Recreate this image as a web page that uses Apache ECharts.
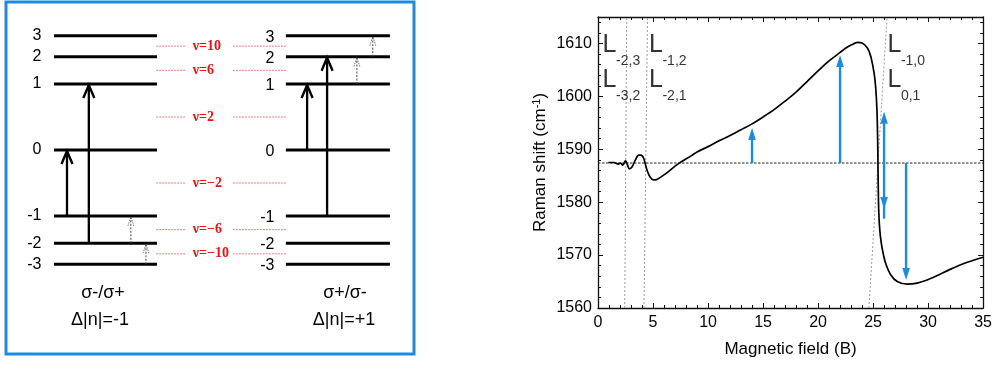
<!DOCTYPE html>
<html><head><meta charset="utf-8">
<script src="https://cdn.jsdelivr.net/npm/echarts@6/dist/echarts.min.js"></script>
<style>html,body{margin:0;padding:0;background:#fff}#c{width:995px;height:365px}</style>
</head><body><div id="c"></div>
<script>
// ---------- Left panel: graphene Landau levels ----------
const levelN = [3, 2, 1, 0, -1, -2, -3];
const levelE = [1.732, 1.414, 1, 0, -1, -1.414, -1.732];
const nuLabels = ['ν=10', 'ν=6', 'ν=2', 'ν=−2', 'ν=−6', 'ν=−10'];
const nuE = [1.573, 1.207, 0.5, -0.5, -1.207, -1.573];
const transLeftFrom = [-1, -2, -2, -3];
const transLeftTo = [0, 1, -1, -2];
const transLeftDashed = [0, 0, 1, 1];
const transRightFrom = [0, -1, 1, 2];
const transRightTo = [1, 2, 2, 3];
const transRightDashed = [0, 0, 1, 1];
const panelTitles = ['σ-/σ+', 'σ+/σ-'];
const panelRules = ['Δ|n|=-1', 'Δ|n|=+1'];

// ---------- Right panel: Raman shift vs field ----------
const fieldB = [0.94,1.44,1.84,2.05,2.25,2.5,2.65,2.86,3.1,3.4,3.7,3.9,4.15,4.45,4.75,5.05,5.35,6.1,7.0,7.4,8.5,9.0,10.0,11.0,12.0,13.0,14.0,15.0,16.0,17.0,18.0,19.0,20.0,21.0,22.0,22.5,23.0,23.6,24.0,24.5,24.8,25.1,25.25,25.35,25.42,25.46,25.52,25.62,25.75,25.95,26.15,26.6,27.2,28.1,29.0,29.9,30.8,32.0,33.5,35.0];
const ramanShift = [1587.5,1587.5,1587.2,1587.4,1587.0,1587.8,1587.2,1586.3,1586.7,1588.0,1588.9,1588.9,1588.3,1586.1,1584.7,1584.2,1584.3,1585.3,1586.8,1587.4,1588.8,1589.5,1590.5,1591.6,1592.6,1593.7,1594.8,1596.1,1597.5,1599.1,1600.8,1602.8,1604.8,1606.7,1608.3,1609.1,1609.7,1610.2,1610.1,1609.1,1607.5,1604.3,1601.3,1597.5,1591.5,1584.5,1578.0,1574.5,1572.2,1570.0,1568.4,1566.3,1565.0,1564.5,1564.7,1565.3,1566.1,1567.3,1568.6,1569.6];
const baseShift = 1587.4;
const llLineB0 = [2.43, 4.18, 24.62];   // B at 1560
const llLineB1 = [2.61, 4.50, 26.27];   // B at 1615
const llSub = ['-2,3', '-3,2', '-1,2', '-2,1', '-1,0', '0,1'];
const llB = [0.42, 0.42, 4.63, 4.63, 26.3, 26.3];
const llShift = [1609.6, 1603.0, 1609.6, 1603.0, 1609.6, 1603.0];
const arrowB = [14, 22, 26, 28];
const arrowFrom = [1587.4, 1587.4, 1578.7, 1587.4];
const arrowTo = [1594.0, 1607.8, 1597.1, 1565.3];
const arrowBoth = [0, 0, 1, 0];
const xMin = 0, xMax = 35, xStep = 5;
const yMin = 1560, yMax = 1615, yStep = 10, yMinorStep = 2;

// ---------- layout (left panel x units 0..100) ----------
const LAY = {
  levelX: [[11.76, 37.0], [68.6, 94.1]],
  numX: [8.7, 65.8],
  nuSegs: [[36.8, 44.1], [55.6, 68.6]],
  nuTextX: 45.8,
  arrowX: [[14.95, 20.3, 30.6, 34.3], [73.8, 78.7, 86.0, 89.9]]
};
const SANS = '"Liberation Sans", Arial, sans-serif';
const SERIF = '"Liberation Serif", "Times New Roman", serif';
const BLUE = '#1d8ce0';

const levelData = [];
[0, 1].forEach(p => levelN.forEach((n, i) => levelData.push([p, levelE[i], n])));
const nuData = nuE.map((e, i) => [e, i]);
const eOf = n => levelE[levelN.indexOf(n)];
const transData = [];
transLeftFrom.forEach((f, i) => transData.push([0, eOf(f), eOf(transLeftTo[i]), transLeftDashed[i], i]));
transRightFrom.forEach((f, i) => transData.push([1, eOf(f), eOf(transRightTo[i]), transRightDashed[i], i]));

const curve = fieldB.map((b, i) => [b, ramanShift[i]]);
const arrowData = arrowB.map((b, i) => [b, arrowFrom[i], arrowTo[i], arrowBoth[i]]);
const llData = llB.map((b, i) => [b, llShift[i], llSub[i]]);

const chart = echarts.init(document.getElementById('c'), null, {renderer: 'canvas'});

function yAxisCfg(pos, step, len, labels) {
  return {
    type: 'value', gridIndex: 1, position: pos, min: yMin, max: yMax, interval: step,
    axisLine: {show: true, lineStyle: {color: '#111', width: 1.3}},
    axisTick: {show: true, inside: true, length: len, lineStyle: {color: '#111', width: 1}},
    axisLabel: {show: labels, color: '#000', fontSize: 16, fontFamily: SANS, margin: 6,
      formatter: v => (v % yStep === 0 ? String(v) : '')},
    splitLine: {show: false},
    name: labels ? 'Raman shift (cm{sup|-1})' : '',
    nameLocation: 'middle', nameGap: 48,
    nameTextStyle: {color: '#000', fontSize: 17, fontFamily: SANS,
      rich: {sup: {fontSize: 11, fontFamily: SANS, color: '#000', verticalAlign: 'bottom', padding: [0, 0, 8, 0]}}}
  };
}
function xAxisCfg(pos, labels) {
  return {
    type: 'value', gridIndex: 1, position: pos, min: xMin, max: xMax, interval: xStep,
    axisLine: {show: true, onZero: false, lineStyle: {color: '#111', width: 1.3}},
    axisTick: {show: true, inside: true, length: 5, lineStyle: {color: '#111', width: 1}},
    minorTick: {show: true, splitNumber: 5, length: 3, lineStyle: {color: '#111', width: 1}},
    axisLabel: {show: labels, color: '#000', fontSize: 16, fontFamily: SANS, margin: 7},
    splitLine: {show: false}, minorSplitLine: {show: false},
    name: labels ? 'Magnetic field (B)' : '', nameLocation: 'middle', nameGap: 33,
    nameTextStyle: {color: '#000', fontSize: 17, fontFamily: SANS}
  };
}

const option = {
  animation: false,
  backgroundColor: '#fff',
  grid: [
    {left: 6, width: 408, top: 18, height: 264},
    {left: 598, right: 8, top: 17, bottom: 57}
  ],
  xAxis: [
    {type: 'value', gridIndex: 0, min: 0, max: 100, show: false},
    xAxisCfg('bottom', true),
    xAxisCfg('top', false)
  ],
  yAxis: [
    {type: 'value', gridIndex: 0, min: -2, max: 2, show: false},
    yAxisCfg('left', yStep, 5, true),
    Object.assign(yAxisCfg('left', yMinorStep, 3, false), {axisLine: {show: false}}),
    yAxisCfg('right', yStep, 5, false),
    Object.assign(yAxisCfg('right', yMinorStep, 3, false), {axisLine: {show: false}})
  ],
  graphic: [
    {type: 'rect', shape: {x: 6, y: 2, width: 408, height: 352}, style: {fill: 'none', stroke: BLUE, lineWidth: 3}, z: 100},
    {type: 'text', style: {text: panelTitles[0], x: 103, y: 293, align: 'center', verticalAlign: 'middle', fontSize: 18, fontFamily: SANS, fill: '#000'}},
    {type: 'text', style: {text: panelRules[0], x: 100, y: 320, align: 'center', verticalAlign: 'middle', fontSize: 18, fontFamily: SANS, fill: '#000'}},
    {type: 'text', style: {text: panelTitles[1], x: 345, y: 293, align: 'center', verticalAlign: 'middle', fontSize: 18, fontFamily: SANS, fill: '#000'}},
    {type: 'text', style: {text: panelRules[1], x: 344, y: 320, align: 'center', verticalAlign: 'middle', fontSize: 18, fontFamily: SANS, fill: '#000'}}
  ],
  series: [
    // filling-factor gaps
    {type: 'custom', xAxisIndex: 0, yAxisIndex: 0, clip: false, data: nuData,
      renderItem: (params, api) => {
        const e = api.value(0), i = api.value(1);
        const ch = LAY.nuSegs.map(s => {
          const a = api.coord([s[0], e]), b = api.coord([s[1], e]);
          return {type: 'line', shape: {x1: a[0], y1: a[1], x2: b[0], y2: b[1]}, style: {stroke: '#f47a7a', lineWidth: 1, lineDash: [2, 1]}};
        });
        const t = api.coord([LAY.nuTextX, e]);
        ch.push({type: 'text', style: {text: nuLabels[i], x: t[0], y: t[1], align: 'left', verticalAlign: 'middle', fontSize: 14, fontWeight: 'bold', fontFamily: SERIF, fill: '#ee1111'}});
        return {type: 'group', children: ch};
      }},
    // levels
    {type: 'custom', xAxisIndex: 0, yAxisIndex: 0, clip: false, data: levelData,
      renderItem: (params, api) => {
        const p = api.value(0), e = api.value(1), n = api.value(2);
        const xs = LAY.levelX[p];
        const a = api.coord([xs[0], e]), b = api.coord([xs[1], e]);
        const t = api.coord([LAY.numX[p], e]);
        return {type: 'group', children: [
          {type: 'line', shape: {x1: a[0], y1: a[1], x2: b[0], y2: b[1]}, style: {stroke: '#000', lineWidth: 3}},
          {type: 'text', style: {text: String(n), x: t[0], y: t[1] + (p ? 1.5 : 0), align: 'right', verticalAlign: 'middle', fontSize: 16, fontFamily: SANS, fill: '#000'}}
        ]};
      }},
    // transitions
    {type: 'custom', xAxisIndex: 0, yAxisIndex: 0, clip: false, data: transData, z: 5,
      renderItem: (params, api) => {
        const p = api.value(0), f = api.value(1), t = api.value(2), dashed = api.value(3), k = api.value(4);
        const x = LAY.arrowX[p][k];
        const a = api.coord([x, f]), b = api.coord([x, t]);
        const H = dashed ? 10 : 14, W = dashed ? 3 : 5.5;
        const st = dashed ? {stroke: '#444', lineWidth: 1, lineDash: [2, 1.5]} : {stroke: '#000', lineWidth: 2.3};
        const hs = dashed ? {stroke: '#555', lineWidth: 0.8, fill: 'none', lineDash: [1.5, 1]} : {stroke: '#000', lineWidth: 2.4, fill: 'none'};
        return {type: 'group', children: [
          {type: 'line', shape: {x1: a[0], y1: a[1], x2: b[0], y2: b[1] + 1}, style: st},
          {type: 'polyline', shape: {points: [[b[0] - W, b[1] + H], [b[0], b[1] + 1], [b[0] + W, b[1] + H]]}, style: hs}
        ]};
      }},
    // baseline
    {type: 'line', xAxisIndex: 1, yAxisIndex: 1, data: [[xMin, baseShift], [xMax, baseShift]], symbol: 'none', silent: true,
      lineStyle: {color: '#222', width: 1, type: [2.5, 1.5]}, z: 2},
    // Landau-level crossing lines
    ...llLineB0.map((b0, i) => ({type: 'line', xAxisIndex: 1, yAxisIndex: 1, data: [[b0, yMin], [llLineB1[i], yMax]], symbol: 'none', silent: true,
      lineStyle: {color: '#9a9a9a', width: 1, type: [2, 2]}, z: 2})),
    // measured curve
    {type: 'line', xAxisIndex: 1, yAxisIndex: 1, data: curve, symbol: 'none', smooth: 0.35,
      lineStyle: {color: '#000', width: 1.7}, z: 4},
    // blue arrows
    {type: 'custom', xAxisIndex: 1, yAxisIndex: 1, clip: false, data: arrowData, z: 6,
      renderItem: (params, api) => {
        const b = api.value(0), f = api.value(1), t = api.value(2), both = api.value(3);
        const p0 = api.coord([b, f]), p1 = api.coord([b, t]);
        const dir = p1[1] < p0[1] ? -1 : 1;
        const H = 12, W = 3.8;
        const ch = [
          {type: 'line', shape: {x1: p0[0], y1: both ? p0[1] - dir * H * 0.8 : p0[1], x2: p1[0], y2: p1[1] - dir * H * 0.8}, style: {stroke: BLUE, lineWidth: 2.4}},
          {type: 'polygon', shape: {points: [[p1[0], p1[1]], [p1[0] - W, p1[1] - dir * H], [p1[0] + W, p1[1] - dir * H]]}, style: {fill: BLUE}}
        ];
        if (both) ch.push({type: 'polygon', shape: {points: [[p0[0], p0[1]], [p0[0] - W, p0[1] + dir * H], [p0[0] + W, p0[1] + dir * H]]}, style: {fill: BLUE}});
        return {type: 'group', children: ch};
      }},
    // Landau level labels
    {type: 'scatter', xAxisIndex: 1, yAxisIndex: 1, data: llData, symbolSize: 0, silent: true, z: 7,
      label: {show: true, position: 'inside', formatter: 'L', align: 'left', verticalAlign: 'middle', fontSize: 25, fontFamily: SANS, color: '#000'}},
    {type: 'scatter', xAxisIndex: 1, yAxisIndex: 1, data: llData, symbolSize: 0, silent: true, z: 7,
      label: {show: true, position: 'inside', formatter: p => p.value[2], align: 'left', verticalAlign: 'middle', offset: [13.5, 16], fontSize: 14, fontFamily: SANS, color: '#000'}}
  ]
};
chart.setOption(option);
</script></body></html>
